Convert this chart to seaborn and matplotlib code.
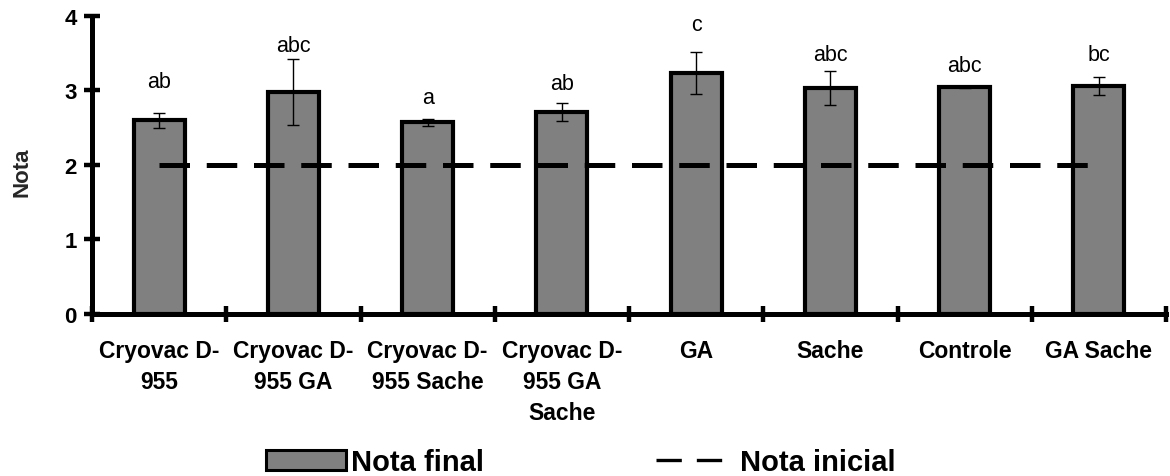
import numpy as np
import pandas as pd
import matplotlib
matplotlib.use("Agg")
import matplotlib.pyplot as plt
from matplotlib.patches import Rectangle
from matplotlib.lines import Line2D
from matplotlib.ticker import FixedLocator
import seaborn as sns

# ---- data ----
categories = ["Cryovac D-\n955", "Cryovac D-\n955 GA", "Cryovac D-\n955 Sache",
              "Cryovac D-\n955 GA\nSache", "GA", "Sache", "Controle", "GA Sache"]
nota_final = [2.60, 2.98, 2.57, 2.71, 3.23, 3.03, 3.04, 3.06]
erro = [0.10, 0.44, 0.05, 0.12, 0.28, 0.23, 0.01, 0.12]
nota_inicial = [2, 2, 2, 2, 2, 2, 2, 2]
letras = ["ab", "abc", "a", "ab", "c", "abc", "abc", "bc"]
letras_y = [3.04, 3.53, 2.83, 3.02, 3.81, 3.40, 3.26, 3.40]
y_ticks = [0, 1, 2, 3, 4]

sns.set_style("white")
plt.rcParams["font.family"] = ["Liberation Sans", "DejaVu Sans"]
plt.rcParams["text.color"] = "black"
plt.rcParams["axes.edgecolor"] = "black"
plt.rcParams["xtick.color"] = "black"
plt.rcParams["ytick.color"] = "black"

W, H = 1170, 477
fig = plt.figure(figsize=(W / 100, H / 100), dpi=100)
ax = fig.add_axes([92 / W, 1 - 315 / H, (1166 - 92) / W, (315 - 16.7) / H])

df = pd.DataFrame({"cat": categories, "final": nota_final})
x = np.arange(len(categories))

sns.barplot(data=df, x="cat", y="final", order=categories, color="#808080",
            saturation=1, edgecolor="black", linewidth=3, width=0.38,
            errorbar=None, ax=ax, zorder=2)
ax.errorbar(x, nota_final, yerr=erro, fmt="none", ecolor="black",
            elinewidth=1.0, capsize=4.3, capthick=1.0, zorder=3)
sns.lineplot(x=x, y=nota_inicial, ax=ax, color="black", lw=3.6,
             linestyle=(0, (6.1, 3.35)), zorder=4)

for i, (lab, ly) in enumerate(zip(letras, letras_y)):
    ax.text(i, ly, lab, ha="center", va="baseline", fontsize=15.5, color="black")

ax.set_xlim(-0.5, len(categories) - 0.5)
ax.set_ylim(0, 4)
ax.set_yticks(y_ticks)
ax.set_yticklabels([str(t) for t in y_ticks], fontsize=16, fontweight="bold")
ax.set_xticks(x)
ax.set_xticklabels(categories, fontsize=16.5, fontweight="bold", linespacing=1.45)
ax.xaxis.set_minor_locator(FixedLocator(np.arange(-0.5, len(categories), 1.0)))

ax.tick_params(axis="x", which="major", length=0, pad=18)
ax.tick_params(axis="x", which="minor", direction="inout", length=12, width=3.2,
               bottom=True)
ax.tick_params(axis="y", which="major", direction="inout", length=12, width=3.2,
               left=True, pad=5)

for s in ["top", "right"]:
    ax.spines[s].set_visible(False)
for s in ["left", "bottom"]:
    ax.spines[s].set_linewidth(3.6)
    ax.spines[s].set_color("black")

ax.set_xlabel("")
ax.set_ylabel("Nota", fontsize=16, fontweight="bold")
ax.yaxis.set_label_coords((32 - 92) / (1166 - 92), 0.48)
ax.yaxis.label.set_va("bottom")

handles = [
    Rectangle((0, 0), 1, 1, facecolor="#808080", edgecolor="black", lw=2.2),
    Line2D([], [], color="black", lw=2.4, linestyle=(0, (7.6, 4.5))),
]
fig.legend(handles, ["Nota final", "Nota inicial"], loc="center",
           bbox_to_anchor=(581 / W, 1 - 463 / H), ncol=2, frameon=False,
           prop={"weight": "bold", "size": 21}, handlelength=2.75,
           handletextpad=0.15, columnspacing=5.9, handleheight=0.7)

fig.savefig("out.png", dpi=100)
